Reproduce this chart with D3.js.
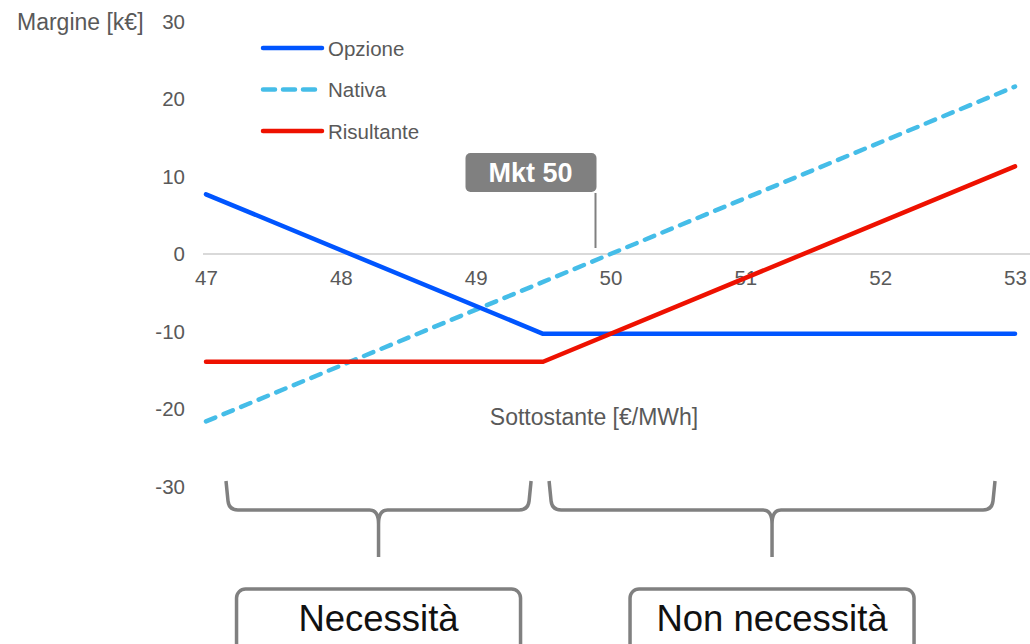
<!DOCTYPE html>
<html>
<head>
<meta charset="utf-8">
<script src="https://cdn.jsdelivr.net/npm/d3@7"></script>
<style>
  html, body { margin: 0; padding: 0; background: #ffffff; }
  svg { display: block; font-family: "Liberation Sans", Arial, sans-serif; }
</style>
</head>
<body>
<svg id="chart" width="1030" height="644"></svg>
<script>
// Underlying price points [€/MWh] and payoff per leg [k€]
const prices = [47, 49.5, 53];
const opzione = [7.7, -10.3, -10.3];
const nativa = [-21.6, -3.6, 21.6];
const risultante = [-13.9, -13.9, 11.3];

const xTicks = [47, 48, 49, 50, 51, 52, 53];
const yTicks = [30, 20, 10, 0, -10, -20, -30];

const seriesNames = ["Opzione", "Nativa", "Risultante"];
const seriesColors = ["#0055ff", "#45bde8", "#ee1100"];
const seriesDash = [null, "10,9", null];

const strike = 49.5;
const mkt = 50;
const regionLabels = ["Necessità", "Non necessità"];

const svg = d3.select("#chart");
const x = d3.scaleLinear().domain([47, 53]).range([206, 1015]);
const y = d3.scaleLinear().domain([-30, 30]).range([486.5, 21.5]);

const tickColor = "#595959";
const grey = "#808080";
const plainNumber = d => String(d);

// zero line
svg.append("line")
  .attr("x1", x(47) - 3).attr("x2", 1030)
  .attr("y1", y(0)).attr("y2", y(0))
  .attr("stroke", "#d9d9d9").attr("stroke-width", 2);

// y axis (labels only)
const yAxis = d3.axisLeft(y).tickValues(yTicks).tickSize(0).tickPadding(0)
  .tickFormat(plainNumber);
const gy = svg.append("g").attr("transform", "translate(185,0)").call(yAxis);
gy.select(".domain").remove();
gy.selectAll("text").attr("fill", tickColor).attr("font-size", 20.5)
  .attr("font-family", "Liberation Sans, Arial, sans-serif");

// x axis labels along the zero line
const xAxis = d3.axisBottom(x).tickValues(xTicks).tickSize(0).tickPadding(0)
  .tickFormat(plainNumber);
const gx = svg.append("g").attr("transform", `translate(0,${y(0)})`).call(xAxis);
gx.select(".domain").remove();
gx.selectAll("text").attr("fill", tickColor).attr("font-size", 20.5)
  .attr("font-family", "Liberation Sans, Arial, sans-serif")
  .attr("y", 31).attr("dy", null);

// axis titles
svg.append("text").attr("x", 17).attr("y", 30)
  .attr("fill", tickColor).attr("font-size", 23).text("Margine [k€]");
svg.append("text").attr("x", 594).attr("y", 425).attr("text-anchor", "middle")
  .attr("fill", tickColor).attr("font-size", 23).text("Sottostante [€/MWh]");

// series lines
const series = [opzione, nativa, risultante];
const line = d3.line().x((d, i) => x(prices[i])).y(d => y(d));
// draw order: Nativa, Opzione, Risultante
[1, 0, 2].forEach(k => {
  svg.append("path")
    .datum(series[k])
    .attr("d", line)
    .attr("fill", "none")
    .attr("stroke", seriesColors[k])
    .attr("stroke-width", 4.5)
    .attr("stroke-linecap", "round")
    .attr("stroke-linejoin", "round")
    .attr("stroke-dasharray", seriesDash[k]);
});

// legend
const legend = svg.append("g");
seriesNames.forEach((name, i) => {
  const ly = 48 + i * 41.5;
  legend.append("line")
    .attr("x1", 263).attr("x2", 322).attr("y1", ly).attr("y2", ly)
    .attr("stroke", seriesColors[i]).attr("stroke-width", 4.5)
    .attr("stroke-linecap", "round")
    .attr("stroke-dasharray", seriesDash[i] ? "12,8" : null);
  legend.append("text").attr("x", 328).attr("y", ly + 7.5)
    .attr("fill", tickColor).attr("font-size", 20.5).text(name);
});

// market price callout
const mx = x(mkt) - 15;
svg.append("line")
  .attr("x1", mx).attr("x2", mx).attr("y1", 193).attr("y2", 248)
  .attr("stroke", grey).attr("stroke-width", 2);
svg.append("rect")
  .attr("x", mx - 130).attr("y", 153).attr("width", 131).attr("height", 39)
  .attr("rx", 5).attr("fill", grey);
svg.append("text")
  .attr("x", mx - 65).attr("y", 182).attr("text-anchor", "middle")
  .attr("fill", "#ffffff").attr("font-size", 27).attr("font-weight", "bold")
  .text("Mkt " + mkt);

// braces over the two regions
function brace(x1, x2, xm) {
  const top = 481, bar = 510, tip = 557;
  return `M${x1},${top} L${x1 + 2},${bar - 9} Q${x1 + 3},${bar} ${x1 + 12},${bar}` +
    ` L${xm - 9},${bar} Q${xm},${bar} ${xm},${bar + 14} L${xm},${tip}` +
    ` M${x2},${top} L${x2 - 2},${bar - 9} Q${x2 - 3},${bar} ${x2 - 12},${bar}` +
    ` L${xm + 9},${bar} Q${xm},${bar} ${xm},${bar + 14}`;
}
const regions = [
  { x1: x(47) + 20, x2: x(strike) - 12, label: regionLabels[0] },
  { x1: x(strike) + 6, x2: x(53) - 20, label: regionLabels[1] }
];
regions.forEach(r => {
  const xm = (r.x1 + r.x2) / 2;
  svg.append("path").attr("d", brace(r.x1, r.x2, xm))
    .attr("fill", "none").attr("stroke", grey).attr("stroke-width", 3.5)
    .attr("stroke-linejoin", "round");
  svg.append("rect")
    .attr("x", xm - 142).attr("y", 589).attr("width", 284).attr("height", 80)
    .attr("rx", 9).attr("fill", "#ffffff")
    .attr("stroke", grey).attr("stroke-width", 3.5);
  svg.append("text")
    .attr("x", xm).attr("y", 631).attr("text-anchor", "middle")
    .attr("fill", "#111111").attr("font-size", 36.5).text(r.label);
});
</script>
</body>
</html>
